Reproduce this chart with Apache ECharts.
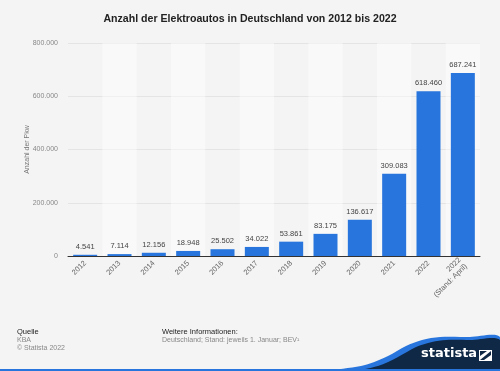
<!DOCTYPE html>
<html><head><meta charset="utf-8">
<script src="https://cdn.jsdelivr.net/npm/echarts@6/dist/echarts.min.js"></script>
<style>html,body{margin:0;padding:0;background:#f4f4f4;}#c{width:500px;height:371px;}</style>
</head><body><div id="c"></div>
<script>
var categories = ['2012','2013','2014','2015','2016','2017','2018','2019','2020','2021','2022','2022\n(Stand: April)'];
var values = [4541, 7114, 12156, 18948, 25502, 34022, 53861, 83175, 136617, 309083, 618460, 687241];
var yTicks = [0, 200000, 400000, 600000, 800000];

function fmt(v){ return String(v).replace(/\B(?=(\d{3})+(?!\d))/g, '.'); }

var chart = echarts.init(document.getElementById('c'), null, {renderer:'canvas'});
var F = 'Liberation Sans, Arial, sans-serif';
chart.setOption({
  backgroundColor:'#f4f4f4',
  animation:false,
  title:{text:'Anzahl der Elektroautos in Deutschland von 2012 bis 2022', left:'center', top:9,
    textStyle:{fontFamily:F, fontSize:10.6, fontWeight:'bold', color:'#222'}},
  grid:{left:68, right:20, top:43, bottom:115},
  xAxis:{type:'category', data:categories,
    axisLine:{lineStyle:{color:'#333', width:1}}, axisTick:{show:false},
    splitArea:{show:true, areaStyle:{color:['rgba(244,244,244,0)','rgba(255,255,255,0.45)']}},
    axisLabel:{rotate:45, fontFamily:F, fontSize:7.5, color:'#666', margin:6, interval:0, lineHeight:9}},
  yAxis:{type:'value', min:yTicks[0], max:yTicks[yTicks.length-1], interval:200000,
    name:'Anzahl der Pkw', nameLocation:'middle', nameGap:37, nameRotate:90, nameMoveOverlap:false,
    nameTextStyle:{fontFamily:F, fontSize:7, color:'#777'},
    axisLine:{show:false}, axisTick:{show:false},
    splitLine:{lineStyle:{color:'#e4e4e4', width:1}},
    axisLabel:{fontFamily:F, fontSize:7, color:'#888', margin:10, formatter:function(v){return fmt(v);}}},
  series:[{type:'bar', data:values, barWidth:24, itemStyle:{color:'#2876dd'},
    label:{show:true, position:'top', distance:4, fontFamily:F, fontSize:7.5, color:'#444',
      formatter:function(p){return fmt(p.value);}}}],
  graphic:[
    {type:'text', x:17, y:328, style:{text:'Quelle', font:'7.5px Liberation Sans', fill:'#222'}},
    {type:'text', x:17, y:337, style:{text:'KBA', font:'7px Liberation Sans', fill:'#888'}},
    {type:'text', x:17, y:345, style:{text:'© Statista 2022', font:'7px Liberation Sans', fill:'#888'}},
    {type:'text', x:162, y:328, style:{text:'Weitere Informationen:', font:'7.5px Liberation Sans', fill:'#222'}},
    {type:'text', x:162, y:337, style:{text:'Deutschland; Stand: jeweils 1. Januar; BEV¹', font:'7px Liberation Sans', fill:'#888'}},
    {type:'polygon', shape:{smooth:0.3, points:[[280,372],[330,370],[365,365],[388,356],[406,346],[422,340],[440,337],[470,337],[500,337],[501,372]]},
      style:{fill:'#2876dd'}},
    {type:'polygon', shape:{smooth:0.3, points:[[305,372],[350,371],[378,366],[398,357],[416,347],[432,342],[446,340],[470,340],[500,340],[501,372]]},
      style:{fill:'#0f2846'}},
    {type:'rect', shape:{x:0, y:369, width:500, height:2}, style:{fill:'#2876dd'}},
    {type:'text', x:421, y:347, style:{text:'statista', font:'bold 13px DejaVu Sans', fill:'#ffffff'}},
    {type:'rect', shape:{x:479, y:350, width:13, height:11}, style:{fill:'#ffffff'}},
    {type:'polygon', shape:{points:[[480,360],[491,351],[491,355],[484,360]]}, style:{fill:'#0f2846'}},
    {type:'polygon', shape:{points:[[480,351],[487,351],[480,356]]}, style:{fill:'#0f2846'}}
  ]
});
</script></body></html>
